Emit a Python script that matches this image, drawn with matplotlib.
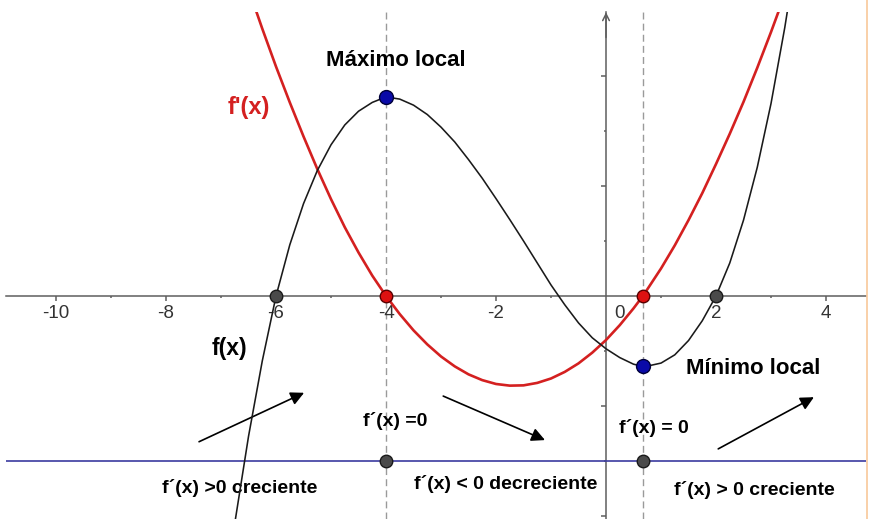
import matplotlib
matplotlib.use('Agg')
import matplotlib.pyplot as plt
from matplotlib.lines import Line2D

plt.rcParams['font.family'] = ['Liberation Sans', 'DejaVu Sans']
plt.rcParams['lines.scale_dashes'] = False

# f(x)
f_x = [-7.0, -6.75, -6.5, -6.25, -6.0, -5.75, -5.5, -5.25, -5.0, -4.75, -4.5, -4.25,
       -4.0, -3.75, -3.5, -3.25, -3.0, -2.75, -2.5, -2.25, -2.0, -1.75, -1.5, -1.25,
       -1.0, -0.75, -0.5, -0.25, 0.0, 0.25, 0.5, 0.67, 0.75, 1.0, 1.25, 1.5, 1.75,
       2.0, 2.25, 2.5, 2.75, 3.0, 3.25, 3.5]
f_y = [-5.88, -4.13, -2.55, -1.18, 0.0, 0.93, 1.68, 2.28, 2.75, 3.11, 3.36, 3.52,
       3.62, 3.58, 3.47, 3.30, 3.07, 2.80, 2.48, 2.14, 1.77, 1.39, 1.00, 0.60,
       0.20, -0.16, -0.49, -0.76, -0.96, -1.12, -1.24, -1.28, -1.275, -1.22, -1.07, -0.81, -0.45,
       0.0, 0.60, 1.38, 2.34, 3.50, 4.88, 6.45]

# f'(x)
df_x = [-6.75, -6.5, -6.25, -6.0, -5.75, -5.5, -5.25, -5.0, -4.75, -4.5, -4.25,
        -4.0, -3.75, -3.5, -3.25, -3.0, -2.75, -2.5, -2.25, -2.0, -1.75, -1.5, -1.25,
        -1.0, -0.75, -0.5, -0.25, 0.0, 0.25, 0.5, 0.67, 0.75, 1.0, 1.25, 1.5, 1.75,
        2.0, 2.25, 2.5, 2.75, 3.0, 3.25, 3.5]
df_y = [6.37, 5.58, 4.86, 4.17, 3.52, 2.90, 2.31, 1.76, 1.25, 0.79, 0.37,
        0.0, -0.33, -0.625, -0.88, -1.10, -1.28, -1.425, -1.53, -1.60, -1.63, -1.625, -1.58,
        -1.50, -1.38, -1.225, -1.03, -0.80, -0.53, -0.225, 0.0, 0.12, 0.50, 0.92, 1.38, 1.87,
        2.40, 2.95, 3.53, 4.15, 4.80, 5.48, 6.20]

roots_f = [-6, 2]
crit_x = [-4, 0.67]
max_pt = (-4, 3.62)
min_pt = (0.67, -1.28)
sign_y = -3

x_ticks = [-10, -8, -6, -4, -2, 2, 4]
x_labels = ['-10', '-8', '-6', '-4', '-2', '2', '4']
x_minor = [-9, -7, -5, -3, -1, 1, 3]
y_ticks = [-4, -2, 2, 4]
y_minor = [-3, -1, 1, 3]

axis_col = '#5e5e5e'
red = '#d42020'

fig = plt.figure(figsize=(8.72, 5.19), dpi=100)
ax = fig.add_axes([6/872, 0, 860/872, 507/519])
ax.set_xlim(-10.91, 4.727)
ax.set_ylim(-4.055, 5.164)

for s in ['top', 'right']:
    ax.spines[s].set_visible(False)
for s in ['left', 'bottom']:
    ax.spines[s].set_position(('data', 0))
    ax.spines[s].set_color(axis_col)
    ax.spines[s].set_linewidth(1.1)
ax.spines['left'].set_zorder(1.5)
ax.spines['bottom'].set_zorder(1.5)

ax.set_xticks(x_ticks, labels=x_labels)
ax.set_xticks(x_minor, minor=True)
ax.set_yticks(y_ticks, labels=[])
ax.set_yticks(y_minor, minor=True)
ax.tick_params(axis='x', which='major', direction='out', length=3.8, width=1.1,
               color=axis_col, pad=3.0, labelsize=13.5, labelcolor='#333333')
ax.tick_params(axis='both', which='minor', direction='out', length=1.6, width=1.1, color=axis_col)
ax.tick_params(axis='y', which='major', direction='out', length=3.8, width=1.1, color=axis_col)
ax.annotate('0', xy=(0, 0), xytext=(9.5, -6.3), textcoords='offset points',
            ha='center', va='top', fontsize=13.5, color='#333333')
# arrow on the y axis
ax.annotate('', xy=(0, 5.16), xytext=(0, 4.7),
            arrowprops=dict(arrowstyle='->', color=axis_col, lw=1.1, mutation_scale=12,
                            shrinkA=0, shrinkB=0))

# dashed verticals at the critical points and sign line
for cx in crit_x:
    ax.axvline(cx, color='#9a9a9a', lw=1.0, dashes=(5, 3), zorder=1)
ax.axhline(sign_y, color='#3b3ba0', lw=1.2, zorder=2)

ax.plot(df_x, df_y, color=red, lw=1.9, zorder=3, solid_capstyle='round')
ax.plot(f_x, f_y, color='#1a1a1a', lw=1.15, zorder=3.5)

dot = dict(linestyle='none', marker='o', markersize=9, markeredgewidth=1.0, zorder=6)
ax.plot(roots_f, [0, 0], color='#4a4a4a', markeredgecolor='#1a1a1a', **dot)
ax.plot(crit_x, [0, 0], color='#dd1111', markeredgecolor='#5a0000', **dot)
ax.plot(crit_x, [sign_y, sign_y], color='#4a4a4a', markeredgecolor='#1a1a1a', **dot)
ax.plot([max_pt[0], min_pt[0]], [max_pt[1], min_pt[1]], color='#0a0aa8',
        markeredgecolor='#00003a', **dict(dot, markersize=10))

bold = dict(fontweight='bold', ha='center', va='center', zorder=2.5)
ax.text(-3.82, 4.29, 'Máximo local', fontsize=16, **bold)
ax.text(2.67, -1.31, 'Mínimo local', fontsize=16, **bold)
ax.text(-6.49, 3.42, "f'(x)", fontsize=17, color=red, **bold)
ax.text(-6.85, -0.95, 'f(x)', fontsize=16.5, **bold)
ax.text(-3.84, -2.27, 'f´(x) =0', fontsize=14, **bold)
ax.text(0.87, -2.4, 'f´(x) = 0', fontsize=14, **bold)
ax.text(-6.67, -3.49, 'f´(x) >0 creciente', fontsize=14, **bold)
ax.text(-1.82, -3.42, 'f´(x) < 0 decreciente', fontsize=14, **bold)
ax.text(2.69, -3.53, 'f´(x) > 0 creciente', fontsize=14, **bold)

arrow = dict(arrowstyle='-|>', color='black', lw=1.2, mutation_scale=20,
             shrinkA=0, shrinkB=0)
ax.annotate('', xy=(-5.49, -1.76), xytext=(-7.40, -2.65), arrowprops=arrow)
ax.annotate('', xy=(-1.11, -2.62), xytext=(-2.96, -1.82), arrowprops=arrow)
ax.annotate('', xy=(3.78, -1.84), xytext=(2.04, -2.78), arrowprops=arrow)

fig.add_artist(Line2D([867/872, 867/872], [0, 1], transform=fig.transFigure,
                      color='#f8c89a', lw=1.2))

fig.savefig('out.png', dpi=100)
